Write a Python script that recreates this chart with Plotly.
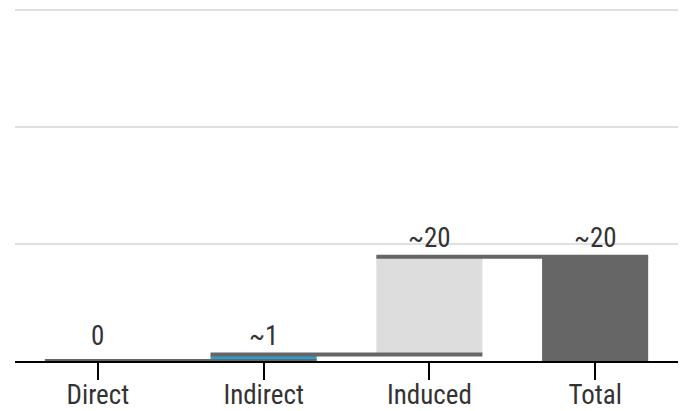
import plotly.graph_objects as go

# ---- data ----
categories = ["Direct", "Indirect", "Induced", "Total"]
measures = ["relative", "relative", "relative", "total"]
values = [0.0, 1.1, 16.7, 0.0]          # deltas; total is computed
value_labels = ["0", "~1", "~20", "~20"]
bar_colors = ["#2aa0d2", "#2aa0d2", "#dddddd", "#666666"]

# ---- derived bar bases / tops ----
bases, tops = [], []
running = 0.0
for m, v in zip(measures, values):
    if m == "total":
        bases.append(0.0)
        tops.append(running)
    else:
        bases.append(running)
        running += v
        tops.append(running)
heights = [t - b for t, b in zip(tops, bases)]

BAR_W = 0.64
xs = list(range(len(categories)))

fig = go.Figure()
fig.add_trace(go.Bar(
    x=xs, y=heights, base=bases, width=BAR_W,
    marker=dict(color=bar_colors, line=dict(width=0)),
    hoverinfo="skip", showlegend=False,
))

# connectors: span from left edge of bar i to right edge of bar i+1
cx, cy = [], []
for i in range(len(categories) - 1):
    cx += [xs[i] - BAR_W / 2, xs[i + 1] + BAR_W / 2, None]
    cy += [tops[i], tops[i], None]
fig.add_trace(go.Scatter(
    x=cx, y=cy, mode="lines",
    line=dict(color="#666666", width=4),
    hoverinfo="skip", showlegend=False,
))

FONT = "Roboto Condensed, Liberation Sans Narrow, Roboto, sans-serif"
LABEL_FLOOR = 1.1
for x, t, lab in zip(xs, tops, value_labels):
    fig.add_annotation(
        x=x, y=max(t, LABEL_FLOOR), text=lab, showarrow=False,
        yanchor="middle", yshift=19,
        font=dict(family=FONT, size=27, color="#333333"),
    )

fig.update_layout(
    width=685, height=411,
    margin=dict(l=15, r=7, t=8, b=50),
    paper_bgcolor="white", plot_bgcolor="white",
    bargap=0.36,
    xaxis=dict(
        range=[-0.5, 3.5], tickmode="array", tickvals=xs, ticktext=categories,
        showline=True, linecolor="black", linewidth=2,
        ticks="outside", ticklen=17, tickwidth=2, tickcolor="black",
        ticklabelstandoff=-8,
        showgrid=False, zeroline=False, automargin=False,
        tickfont=dict(family=FONT, size=27, color="#333333"),
    ),
    yaxis=dict(
        range=[0, 60.3], tickmode="array", tickvals=[20, 40, 60],
        showticklabels=False, automargin=False,
        showgrid=True, gridcolor="#e0e0e0", gridwidth=2,
        zeroline=False, showline=False,
    ),
)

fig.write_html("out.html", config={"displayModeBar": False},
               post_script="document.body.style.margin='0';")
